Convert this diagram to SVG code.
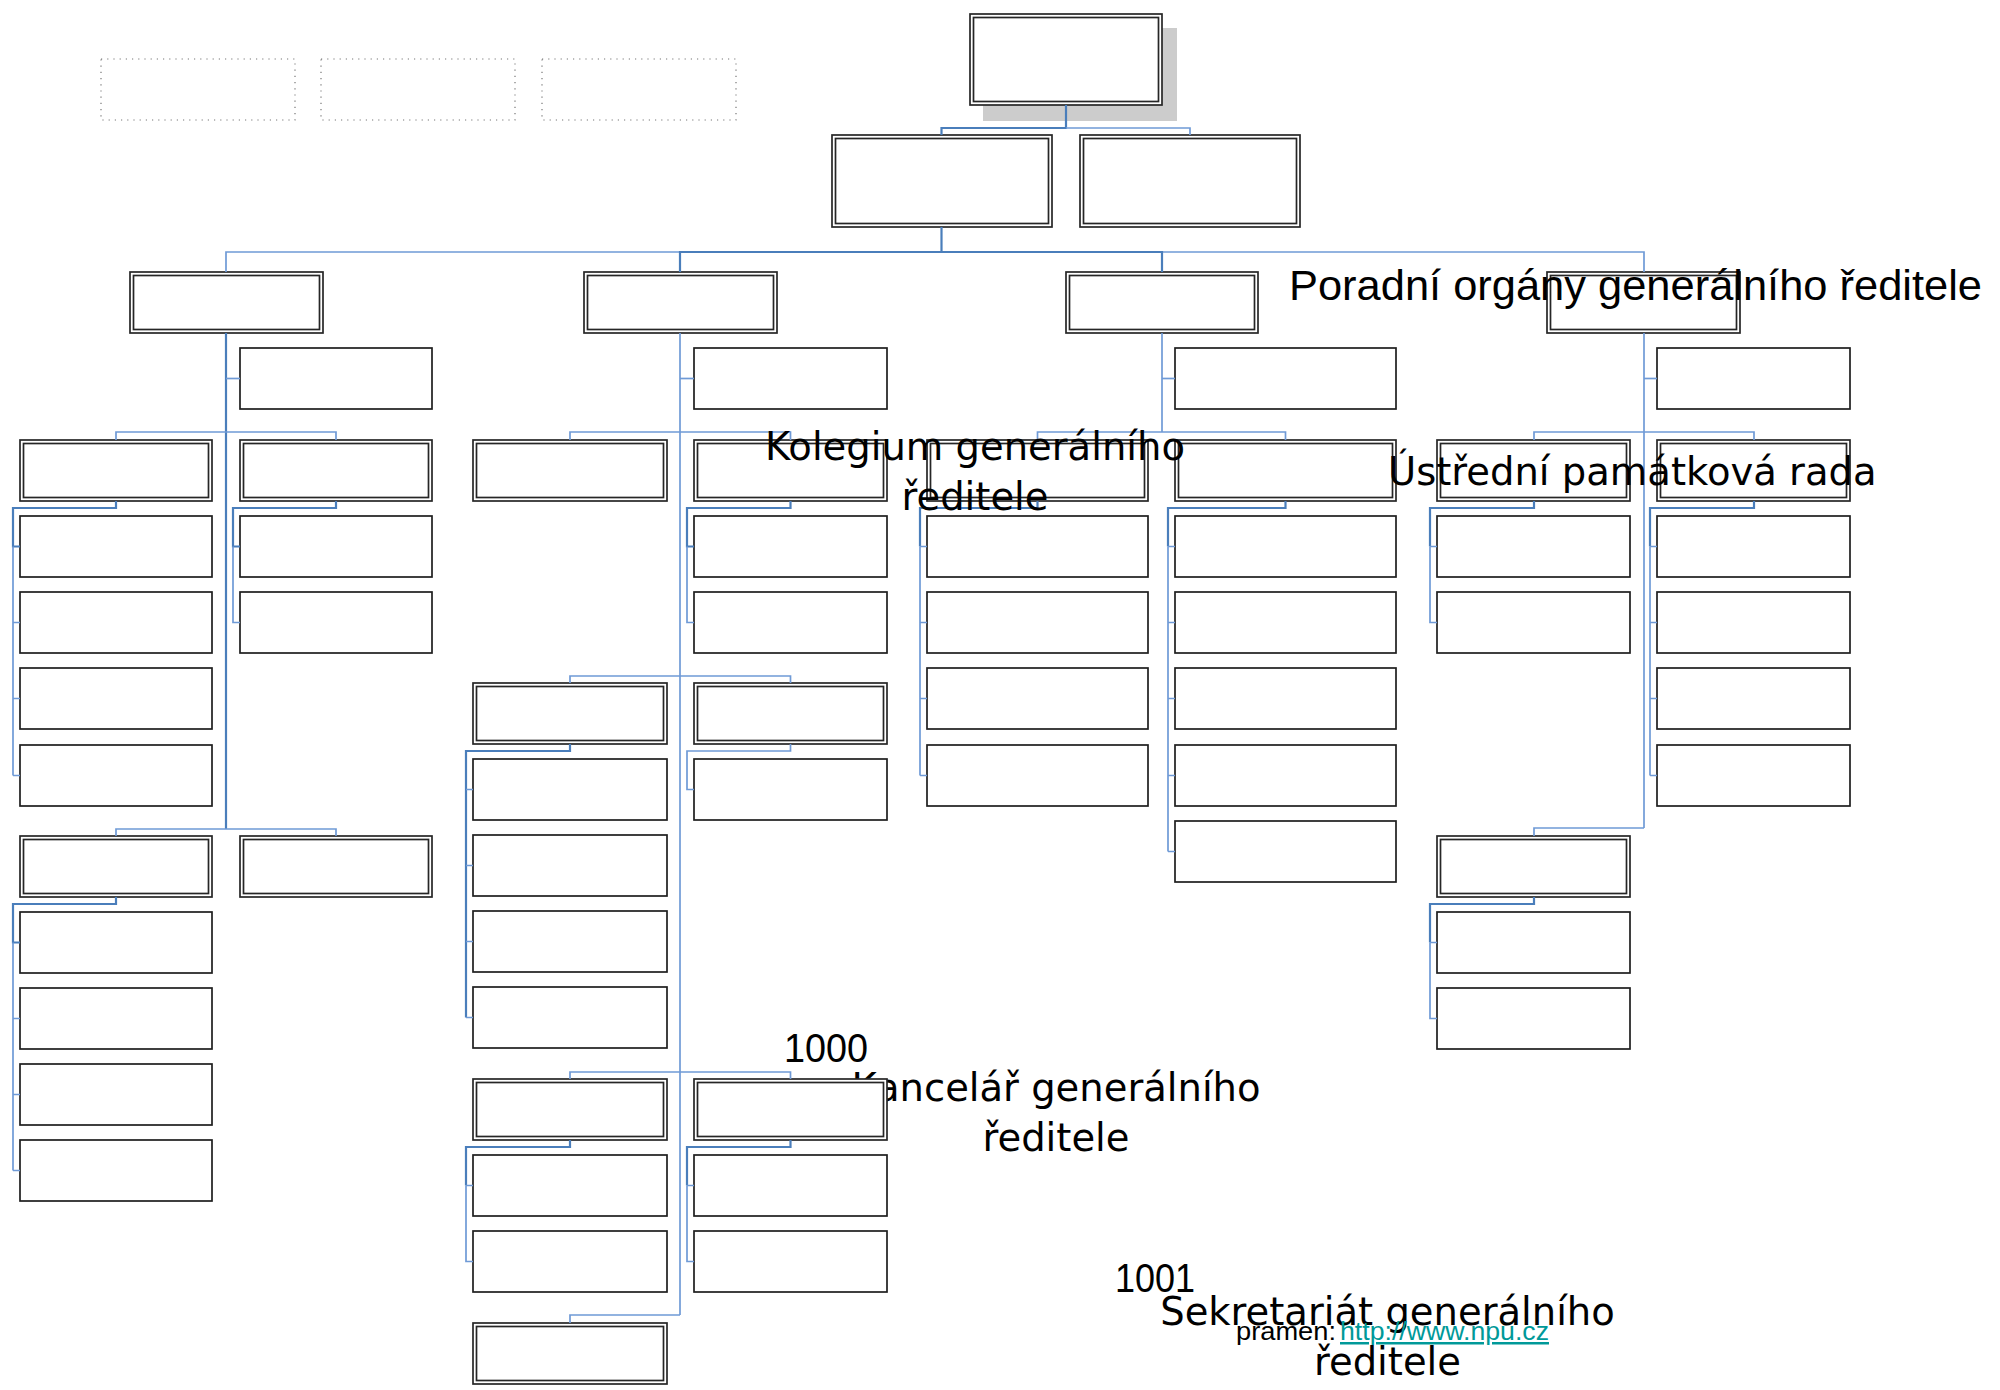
<svg xmlns="http://www.w3.org/2000/svg" width="2000" height="1390" viewBox="0 0 2000 1390">
<style>
.bg{fill:#ffffff}
.box{fill:#ffffff;stroke:#1e1e1e;stroke-width:1.7}
.dbo{fill:#ffffff;stroke:#262626;stroke-width:1.7}
.dbi{fill:none;stroke:#262626;stroke-width:1.7}
.dot{fill:none;stroke:#777777;stroke-width:1.2;stroke-dasharray:1.2 5}
.shadow{fill:#cccccc}
.cd{fill:none;stroke:#4a7ebb;stroke-width:2.2}
.cl{fill:none;stroke:#6f9ad6;stroke-width:1.7}
.sans{font-family:"Liberation Sans",Arial,sans-serif;fill:#000000}
.dv{font-family:"DejaVu Sans","Noto Sans",sans-serif;font-size:38.5px;fill:#000000}
.link{fill:#009999;text-decoration:underline}
</style>
<rect class="bg" x="0" y="0" width="2000" height="1390"/>

<g id="labels-under">
  <text class="sans" x="784" y="1062" font-size="40" textLength="84" lengthAdjust="spacingAndGlyphs">1000</text>
  <text class="dv" text-anchor="middle"><tspan x="1056" y="1101">Kancelář generálního</tspan><tspan x="1056" y="1151">ředitele</tspan></text>
</g>

<g id="placeholders">
  <rect class="dot" x="101" y="59" width="194" height="61"/>
  <rect class="dot" x="321" y="59" width="194" height="61"/>
  <rect class="dot" x="542" y="59" width="194" height="61"/>
</g>

<g id="n-top">
  <rect class="shadow" x="983" y="28" width="194" height="93"/>
  <rect class="dbo" x="970" y="14" width="192" height="91"/>
  <rect class="dbi" x="973.5" y="17.5" width="185" height="84"/>
</g>
<g id="n-l2a"><rect class="dbo" x="832" y="135" width="220" height="92"/><rect class="dbi" x="835.5" y="138.5" width="213" height="85"/></g>
<g id="n-l2b"><rect class="dbo" x="1080" y="135" width="220" height="92"/><rect class="dbi" x="1083.5" y="138.5" width="213" height="85"/></g>

<!-- level 3 -->
<g id="n-l3-1"><rect class="dbo" x="130" y="272" width="193" height="61"/><rect class="dbi" x="133.5" y="275.5" width="186" height="54"/></g>
<g id="n-l3-2"><rect class="dbo" x="584" y="272" width="193" height="61"/><rect class="dbi" x="587.5" y="275.5" width="186" height="54"/></g>
<g id="n-l3-3"><rect class="dbo" x="1066" y="272" width="192" height="61"/><rect class="dbi" x="1069.5" y="275.5" width="185" height="54"/></g>
<g id="n-l3-4"><rect class="dbo" x="1547" y="272" width="193" height="61"/><rect class="dbi" x="1550.5" y="275.5" width="186" height="54"/></g>

<!-- group A/B -->
<g id="n-ab-asst"><rect class="box" x="240" y="348" width="192" height="61"/></g>
<g id="n-a1"><rect class="dbo" x="20" y="440" width="192" height="61"/><rect class="dbi" x="23.5" y="443.5" width="185" height="54"/></g>
<g id="n-a1-1"><rect class="box" x="20" y="516" width="192" height="61"/></g>
<g id="n-a1-2"><rect class="box" x="20" y="592" width="192" height="61"/></g>
<g id="n-a1-3"><rect class="box" x="20" y="668" width="192" height="61"/></g>
<g id="n-a1-4"><rect class="box" x="20" y="745" width="192" height="61"/></g>
<g id="n-b1"><rect class="dbo" x="240" y="440" width="192" height="61"/><rect class="dbi" x="243.5" y="443.5" width="185" height="54"/></g>
<g id="n-b1-1"><rect class="box" x="240" y="516" width="192" height="61"/></g>
<g id="n-b1-2"><rect class="box" x="240" y="592" width="192" height="61"/></g>
<g id="n-a2"><rect class="dbo" x="20" y="836" width="192" height="61"/><rect class="dbi" x="23.5" y="839.5" width="185" height="54"/></g>
<g id="n-a2-1"><rect class="box" x="20" y="912" width="192" height="61"/></g>
<g id="n-a2-2"><rect class="box" x="20" y="988" width="192" height="61"/></g>
<g id="n-a2-3"><rect class="box" x="20" y="1064" width="192" height="61"/></g>
<g id="n-a2-4"><rect class="box" x="20" y="1140" width="192" height="61"/></g>
<g id="n-b2"><rect class="dbo" x="240" y="836" width="192" height="61"/><rect class="dbi" x="243.5" y="839.5" width="185" height="54"/></g>

<!-- group C/D -->
<g id="n-cd-asst"><rect class="box" x="694" y="348" width="193" height="61"/></g>
<g id="n-c1"><rect class="dbo" x="473" y="440" width="194" height="61"/><rect class="dbi" x="476.5" y="443.5" width="187" height="54"/></g>
<g id="n-d1"><rect class="dbo" x="694" y="440" width="193" height="61"/><rect class="dbi" x="697.5" y="443.5" width="186" height="54"/></g>
<g id="n-d1-1"><rect class="box" x="694" y="516" width="193" height="61"/></g>
<g id="n-d1-2"><rect class="box" x="694" y="592" width="193" height="61"/></g>
<g id="n-c2"><rect class="dbo" x="473" y="683" width="194" height="61"/><rect class="dbi" x="476.5" y="686.5" width="187" height="54"/></g>
<g id="n-c2-1"><rect class="box" x="473" y="759" width="194" height="61"/></g>
<g id="n-c2-2"><rect class="box" x="473" y="835" width="194" height="61"/></g>
<g id="n-c2-3"><rect class="box" x="473" y="911" width="194" height="61"/></g>
<g id="n-c2-4"><rect class="box" x="473" y="987" width="194" height="61"/></g>
<g id="n-d2"><rect class="dbo" x="694" y="683" width="193" height="61"/><rect class="dbi" x="697.5" y="686.5" width="186" height="54"/></g>
<g id="n-d2-1"><rect class="box" x="694" y="759" width="193" height="61"/></g>
<g id="n-c3"><rect class="dbo" x="473" y="1079" width="194" height="61"/><rect class="dbi" x="476.5" y="1082.5" width="187" height="54"/></g>
<g id="n-c3-1"><rect class="box" x="473" y="1155" width="194" height="61"/></g>
<g id="n-c3-2"><rect class="box" x="473" y="1231" width="194" height="61"/></g>
<g id="n-d3"><rect class="dbo" x="694" y="1079" width="193" height="61"/><rect class="dbi" x="697.5" y="1082.5" width="186" height="54"/></g>
<g id="n-d3-1"><rect class="box" x="694" y="1155" width="193" height="61"/></g>
<g id="n-d3-2"><rect class="box" x="694" y="1231" width="193" height="61"/></g>
<g id="n-c4"><rect class="dbo" x="473" y="1323" width="194" height="61"/><rect class="dbi" x="476.5" y="1326.5" width="187" height="54"/></g>

<!-- group E/F -->
<g id="n-ef-asst"><rect class="box" x="1175" y="348" width="221" height="61"/></g>
<g id="n-e1"><rect class="dbo" x="927" y="440" width="221" height="61"/><rect class="dbi" x="930.5" y="443.5" width="214" height="54"/></g>
<g id="n-e1-1"><rect class="box" x="927" y="516" width="221" height="61"/></g>
<g id="n-e1-2"><rect class="box" x="927" y="592" width="221" height="61"/></g>
<g id="n-e1-3"><rect class="box" x="927" y="668" width="221" height="61"/></g>
<g id="n-e1-4"><rect class="box" x="927" y="745" width="221" height="61"/></g>
<g id="n-f1"><rect class="dbo" x="1175" y="440" width="221" height="61"/><rect class="dbi" x="1178.5" y="443.5" width="214" height="54"/></g>
<g id="n-f1-1"><rect class="box" x="1175" y="516" width="221" height="61"/></g>
<g id="n-f1-2"><rect class="box" x="1175" y="592" width="221" height="61"/></g>
<g id="n-f1-3"><rect class="box" x="1175" y="668" width="221" height="61"/></g>
<g id="n-f1-4"><rect class="box" x="1175" y="745" width="221" height="61"/></g>
<g id="n-f1-5"><rect class="box" x="1175" y="821" width="221" height="61"/></g>

<!-- group G/H -->
<g id="n-gh-asst"><rect class="box" x="1657" y="348" width="193" height="61"/></g>
<g id="n-g1"><rect class="dbo" x="1437" y="440" width="193" height="61"/><rect class="dbi" x="1440.5" y="443.5" width="186" height="54"/></g>
<g id="n-g1-1"><rect class="box" x="1437" y="516" width="193" height="61"/></g>
<g id="n-g1-2"><rect class="box" x="1437" y="592" width="193" height="61"/></g>
<g id="n-h1"><rect class="dbo" x="1657" y="440" width="193" height="61"/><rect class="dbi" x="1660.5" y="443.5" width="186" height="54"/></g>
<g id="n-h1-1"><rect class="box" x="1657" y="516" width="193" height="61"/></g>
<g id="n-h1-2"><rect class="box" x="1657" y="592" width="193" height="61"/></g>
<g id="n-h1-3"><rect class="box" x="1657" y="668" width="193" height="61"/></g>
<g id="n-h1-4"><rect class="box" x="1657" y="745" width="193" height="61"/></g>
<g id="n-g2"><rect class="dbo" x="1437" y="836" width="193" height="61"/><rect class="dbi" x="1440.5" y="839.5" width="186" height="54"/></g>
<g id="n-g2-1"><rect class="box" x="1437" y="912" width="193" height="61"/></g>
<g id="n-g2-2"><rect class="box" x="1437" y="988" width="193" height="61"/></g>

<g id="connectors">
  <!-- top -->
  <path class="cd" d="M1066 105 V128 H941.5 V135"/>
  <path class="cl" d="M1066 128 H1190 V135"/>
  <!-- level 3 -->
  <path class="cd" d="M941.5 227 V252"/>
  <path class="cl" d="M226 272 V252 H1644 V272"/>
  <path class="cd" d="M680 272 V252 H1162 V272"/>
  <!-- group A/B -->
  <path class="cd" d="M226 333 V829"/>
  <path class="cl" d="M226 378.5 H240"/>
  <path class="cl" d="M116 440 V432 H336 V440"/>
  <path class="cd" d="M116 501 V508 H13 V546.5 H20"/>
  <path class="cl" d="M13 546.5 V775.5 M13 622.5 H20 M13 698.5 H20 M13 775.5 H20"/>
  <path class="cd" d="M336 501 V508 H233 V546.5 H240"/>
  <path class="cl" d="M233 546.5 V622.5 H240"/>
  <path class="cl" d="M116 836 V829 H336 V836"/>
  <path class="cd" d="M116 897 V904 H13 V942.5 H20"/>
  <path class="cl" d="M13 942.5 V1170.5 M13 1018.5 H20 M13 1094.5 H20 M13 1170.5 H20"/>
  <!-- group C/D -->
  <path class="cl" d="M680 333 V1315"/>
  <path class="cl" d="M680 378.5 H694"/>
  <path class="cl" d="M570 440 V432 H790.5 V440"/>
  <path class="cd" d="M790.5 501 V508 H687 V546.5 H694"/>
  <path class="cl" d="M687 546.5 V622.5 H694"/>
  <path class="cl" d="M570 683 V676 H790.5 V683"/>
  <path class="cd" d="M570 744 V751 H466 V1017.5"/>
  <path class="cl" d="M466 789.5 H473 M466 865.5 H473 M466 941.5 H473 M466 1017.5 H473"/>
  <path class="cl" d="M790.5 744 V751 H687 V789.5 H694"/>
  <path class="cl" d="M570 1079 V1072 H790.5 V1079"/>
  <path class="cd" d="M570 1140 V1147 H466 V1185.5"/>
  <path class="cl" d="M466 1185.5 H473 M466 1185.5 V1261.5 H473"/>
  <path class="cd" d="M790.5 1140 V1147 H687 V1185.5"/>
  <path class="cl" d="M687 1185.5 H694 M687 1185.5 V1261.5 H694"/>
  <path class="cl" d="M680 1315 H570 V1323"/>
  <!-- group E/F -->
  <path class="cl" d="M1162 333 V432"/>
  <path class="cl" d="M1162 378.5 H1175"/>
  <path class="cl" d="M1037.5 440 V432 H1285.5 V440"/>
  <path class="cd" d="M1037.5 501 V508 H920 V546.5"/>
  <path class="cl" d="M920 546.5 V775.5 M920 546.5 H927 M920 622.5 H927 M920 698.5 H927 M920 775.5 H927"/>
  <path class="cd" d="M1285.5 501 V508 H1168 V546.5"/>
  <path class="cl" d="M1168 546.5 V851.5 M1168 546.5 H1175 M1168 622.5 H1175 M1168 698.5 H1175 M1168 775.5 H1175 M1168 851.5 H1175"/>
  <!-- group G/H -->
  <path class="cl" d="M1644 333 V828"/>
  <path class="cl" d="M1644 378.5 H1657"/>
  <path class="cl" d="M1534 440 V432 H1754 V440"/>
  <path class="cd" d="M1534 501 V508 H1430 V546.5"/>
  <path class="cl" d="M1430 546.5 H1437 M1430 546.5 V622.5 H1437"/>
  <path class="cd" d="M1754 501 V508 H1650 V546.5"/>
  <path class="cl" d="M1650 546.5 V775.5 M1650 546.5 H1657 M1650 622.5 H1657 M1650 698.5 H1657 M1650 775.5 H1657"/>
  <path class="cl" d="M1644 828 H1534 V836"/>
  <path class="cd" d="M1534 897 V904 H1430 V942.5"/>
  <path class="cl" d="M1430 942.5 H1437 M1430 942.5 V1018.5 H1437"/>
</g>

<g id="labels">
  <text class="sans" x="1289" y="300" font-size="42" textLength="693" lengthAdjust="spacingAndGlyphs">Poradní orgány generálního ředitele</text>
  <text class="dv" text-anchor="middle"><tspan x="975" y="460">Kolegium generálního</tspan><tspan x="975" y="510">ředitele</tspan></text>
  <text class="dv" x="1388" y="485">Ústřední památková rada</text>
  <text class="sans" x="1115" y="1292" font-size="40" textLength="80" lengthAdjust="spacingAndGlyphs">1001</text>
  <text class="dv" text-anchor="middle"><tspan x="1387.5" y="1325">Sekretariát generálního</tspan><tspan x="1387.5" y="1375">ředitele</tspan></text>
  <text class="sans" x="1236" y="1340" font-size="25" textLength="100" lengthAdjust="spacingAndGlyphs">pramen:</text>
  <text class="sans link" x="1340" y="1340" font-size="25" textLength="209" lengthAdjust="spacingAndGlyphs">http://www.npu.cz</text>
</g>
</svg>
